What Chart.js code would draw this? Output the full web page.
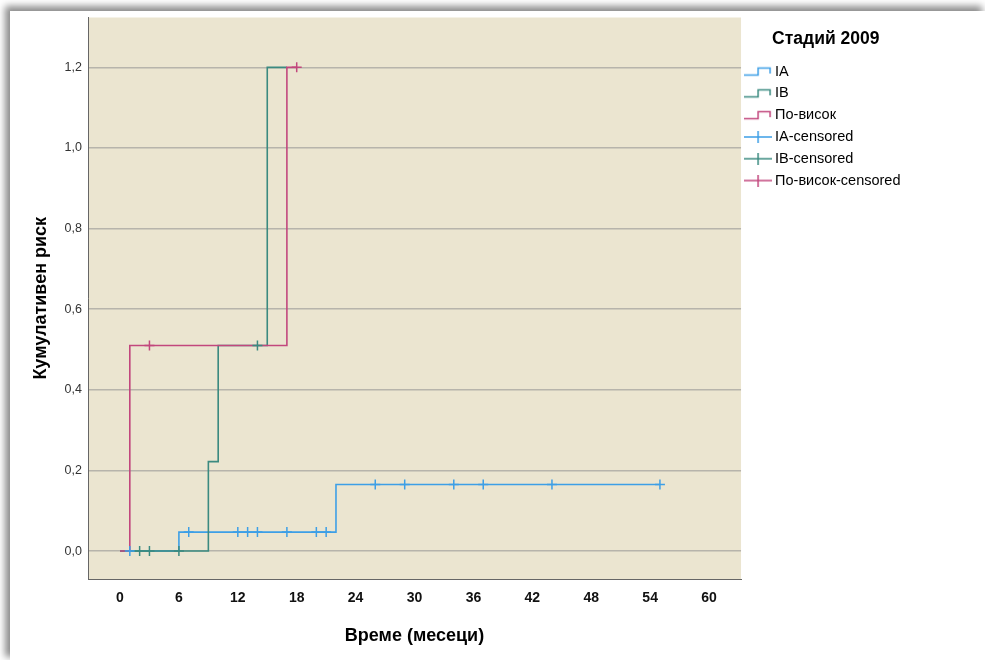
<!DOCTYPE html>
<html>
<head>
<meta charset="utf-8">
<script src="https://cdn.jsdelivr.net/npm/chart.js@4.4.1/dist/chart.umd.min.js"></script>
<style>
html, body { margin: 0; padding: 0; background: #fff; width: 985px; height: 660px; overflow: hidden; }
#frame { position: absolute; left: 10px; top: 11px; width: 975px; height: 649px; background: #fff;
         box-shadow: -4px -4px 7px 1px rgba(0,0,0,0.45); }
canvas { display: block; }
</style>
</head>
<body>
<div id="frame"><canvas id="myChart" width="975" height="649"></canvas></div>
<script>
// step curves (time in months, cumulative risk)
const stageNames = ['IA', 'IB', 'По-висок'];
const stageColors = ['#3d9fe6', '#3b8a80', '#c2477d'];

const iaTimes = [0, 6, 22, 55];
const iaRisk = [0, 0.047, 0.165, 0.165];
const ibTimes = [0, 9, 10, 15, 17];
const ibRisk = [0, 0.222, 0.51, 1.2, 1.2];
const hiTimes = [0, 1, 17, 18];
const hiRisk = [0, 0.51, 1.2, 1.2];

// censored marks
const iaCensTimes = [1, 7, 12, 13, 14, 17, 20, 21, 26, 29, 34, 37, 44, 55];
const iaCensRisk = [0, 0.047, 0.047, 0.047, 0.047, 0.047, 0.047, 0.047, 0.165, 0.165, 0.165, 0.165, 0.165, 0.165];
const ibCensTimes = [2, 3, 6, 14];
const ibCensRisk = [0, 0, 0, 0.51];
const hiCensTimes = [3, 18];
const hiCensRisk = [0.51, 1.2];

const xTicks = [0, 6, 12, 18, 24, 30, 36, 42, 48, 54, 60];
const yTicks = [0, 0.2, 0.4, 0.6, 0.8, 1.0, 1.2];

const FONT = "'Liberation Sans', Arial, sans-serif";

function pts(xs, ys) {
    return xs.map((x, i) => ({ x: x, y: ys[i] }));
}

// little legend icons
function stepIcon(color) {
    let c = document.createElement('canvas');
    c.width = 28; c.height = 12;
    let g = c.getContext('2d');
    g.strokeStyle = color; g.lineWidth = 1.5;
    g.beginPath();
    g.moveTo(0, 9.5); g.lineTo(14, 9.5); g.lineTo(14, 2.5); g.lineTo(26, 2.5); g.lineTo(26, 8);
    g.stroke();
    return c;
}
function crossIcon(color) {
    let c = document.createElement('canvas');
    c.width = 28; c.height = 12;
    let g = c.getContext('2d');
    g.strokeStyle = color; g.lineWidth = 1.5;
    g.beginPath();
    g.moveTo(0, 6); g.lineTo(28, 6);
    g.moveTo(14, 0); g.lineTo(14, 12);
    g.stroke();
    return c;
}

function lineSet(name, xs, ys, color, order) {
    return {
        label: name, data: pts(xs, ys), showLine: true, stepped: true,
        borderColor: color, backgroundColor: color, borderWidth: 1.6,
        pointRadius: 0, pointHoverRadius: 0, order: order
    };
}
function censSet(name, xs, ys, color, order) {
    return {
        label: name + '-censored', data: pts(xs, ys), showLine: false,
        borderColor: color, backgroundColor: color, pointStyle: 'cross',
        pointRadius: 5, pointBorderWidth: 1.5, order: order
    };
}

const datasets = [
    lineSet(stageNames[0], iaTimes, iaRisk, stageColors[0], 5),
    lineSet(stageNames[1], ibTimes, ibRisk, stageColors[1], 4),
    lineSet(stageNames[2], hiTimes, hiRisk, stageColors[2], 3),
    censSet(stageNames[0], iaCensTimes, iaCensRisk, stageColors[0], 2),
    censSet(stageNames[1], ibCensTimes, ibCensRisk, stageColors[1], 1),
    censSet(stageNames[2], hiCensTimes, hiCensRisk, stageColors[2], 0)
];

const plotBg = {
    id: 'plotBg',
    beforeDraw(chart) {
        const a = chart.chartArea, ctx = chart.ctx;
        ctx.save();
        ctx.fillStyle = '#ebe5d0';
        ctx.fillRect(a.left, a.top, a.right - a.left, a.bottom - a.top);
        ctx.restore();
    }
};

const myChart = new Chart(document.getElementById('myChart'), {
    type: 'scatter',
    data: { datasets: datasets },
    plugins: [plotBg],
    options: {
        responsive: false,
        animation: false,
        layout: { padding: { top: 5, left: 0, right: 74.5, bottom: 0 } },
        plugins: {
            tooltip: { enabled: false },
            legend: {
                position: 'right',
                align: 'start',
                title: {
                    display: true, text: 'Стадий 2009', color: '#000',
                    font: { family: FONT, size: 17.5, weight: 'bold' },
                    padding: { top: 14, bottom: 6 }
                },
                labels: {
                    color: '#000', usePointStyle: true, pointStyleWidth: 19.5, padding: 7.3,
                    font: { family: FONT, size: 14.5 },
                    sort: (a, b) => a.datasetIndex - b.datasetIndex,
                    generateLabels(chart) {
                        let items = Chart.defaults.plugins.legend.labels.generateLabels(chart);
                        items.forEach(it => {
                            let i = it.datasetIndex;
                            it.pointStyle = i < 3 ? stepIcon(stageColors[i]) : crossIcon(stageColors[i - 3]);
                            it.fontColor = '#000';
                        });
                        return items;
                    }
                }
            }
        },
        scales: {
            x: {
                type: 'linear', min: -3.26, max: 63.26,
                afterBuildTicks: s => { s.ticks = xTicks.map(v => ({ value: v })); },
                afterFit: s => { s.height = 81; s.paddingLeft = 0; s.paddingRight = 0; },
                grid: { display: false, drawTicks: false },
                border: { display: true, color: '#666', width: 1 },
                ticks: { color: '#111', padding: 11, font: { family: FONT, size: 14, weight: 'bold' } },
                title: { display: true, text: 'Време (месеци)', color: '#000',
                         font: { family: FONT, size: 18, weight: 'bold' }, padding: { top: 10, bottom: 13 } }
            },
            y: {
                type: 'linear', min: -0.0693, max: 1.3237,
                afterBuildTicks: s => { s.ticks = yTicks.map(v => ({ value: v })); },
                afterFit: s => { s.width = 78; s.paddingTop = 0; s.paddingBottom = 0; },
                grid: { color: 'rgba(140,140,140,0.55)', lineWidth: 1.5, drawTicks: false },
                border: { display: true, color: '#666', width: 1 },
                ticks: { color: '#333', padding: 6, font: { family: FONT, size: 12.5 },
                         callback: v => v.toFixed(1).replace('.', ',') },
                title: { display: true, text: 'Кумулативен риск', color: '#000',
                         font: { family: FONT, size: 18, weight: 'bold' }, padding: { top: 20, bottom: 8 } }
            }
        }
    }
});
</script>
</body>
</html>
